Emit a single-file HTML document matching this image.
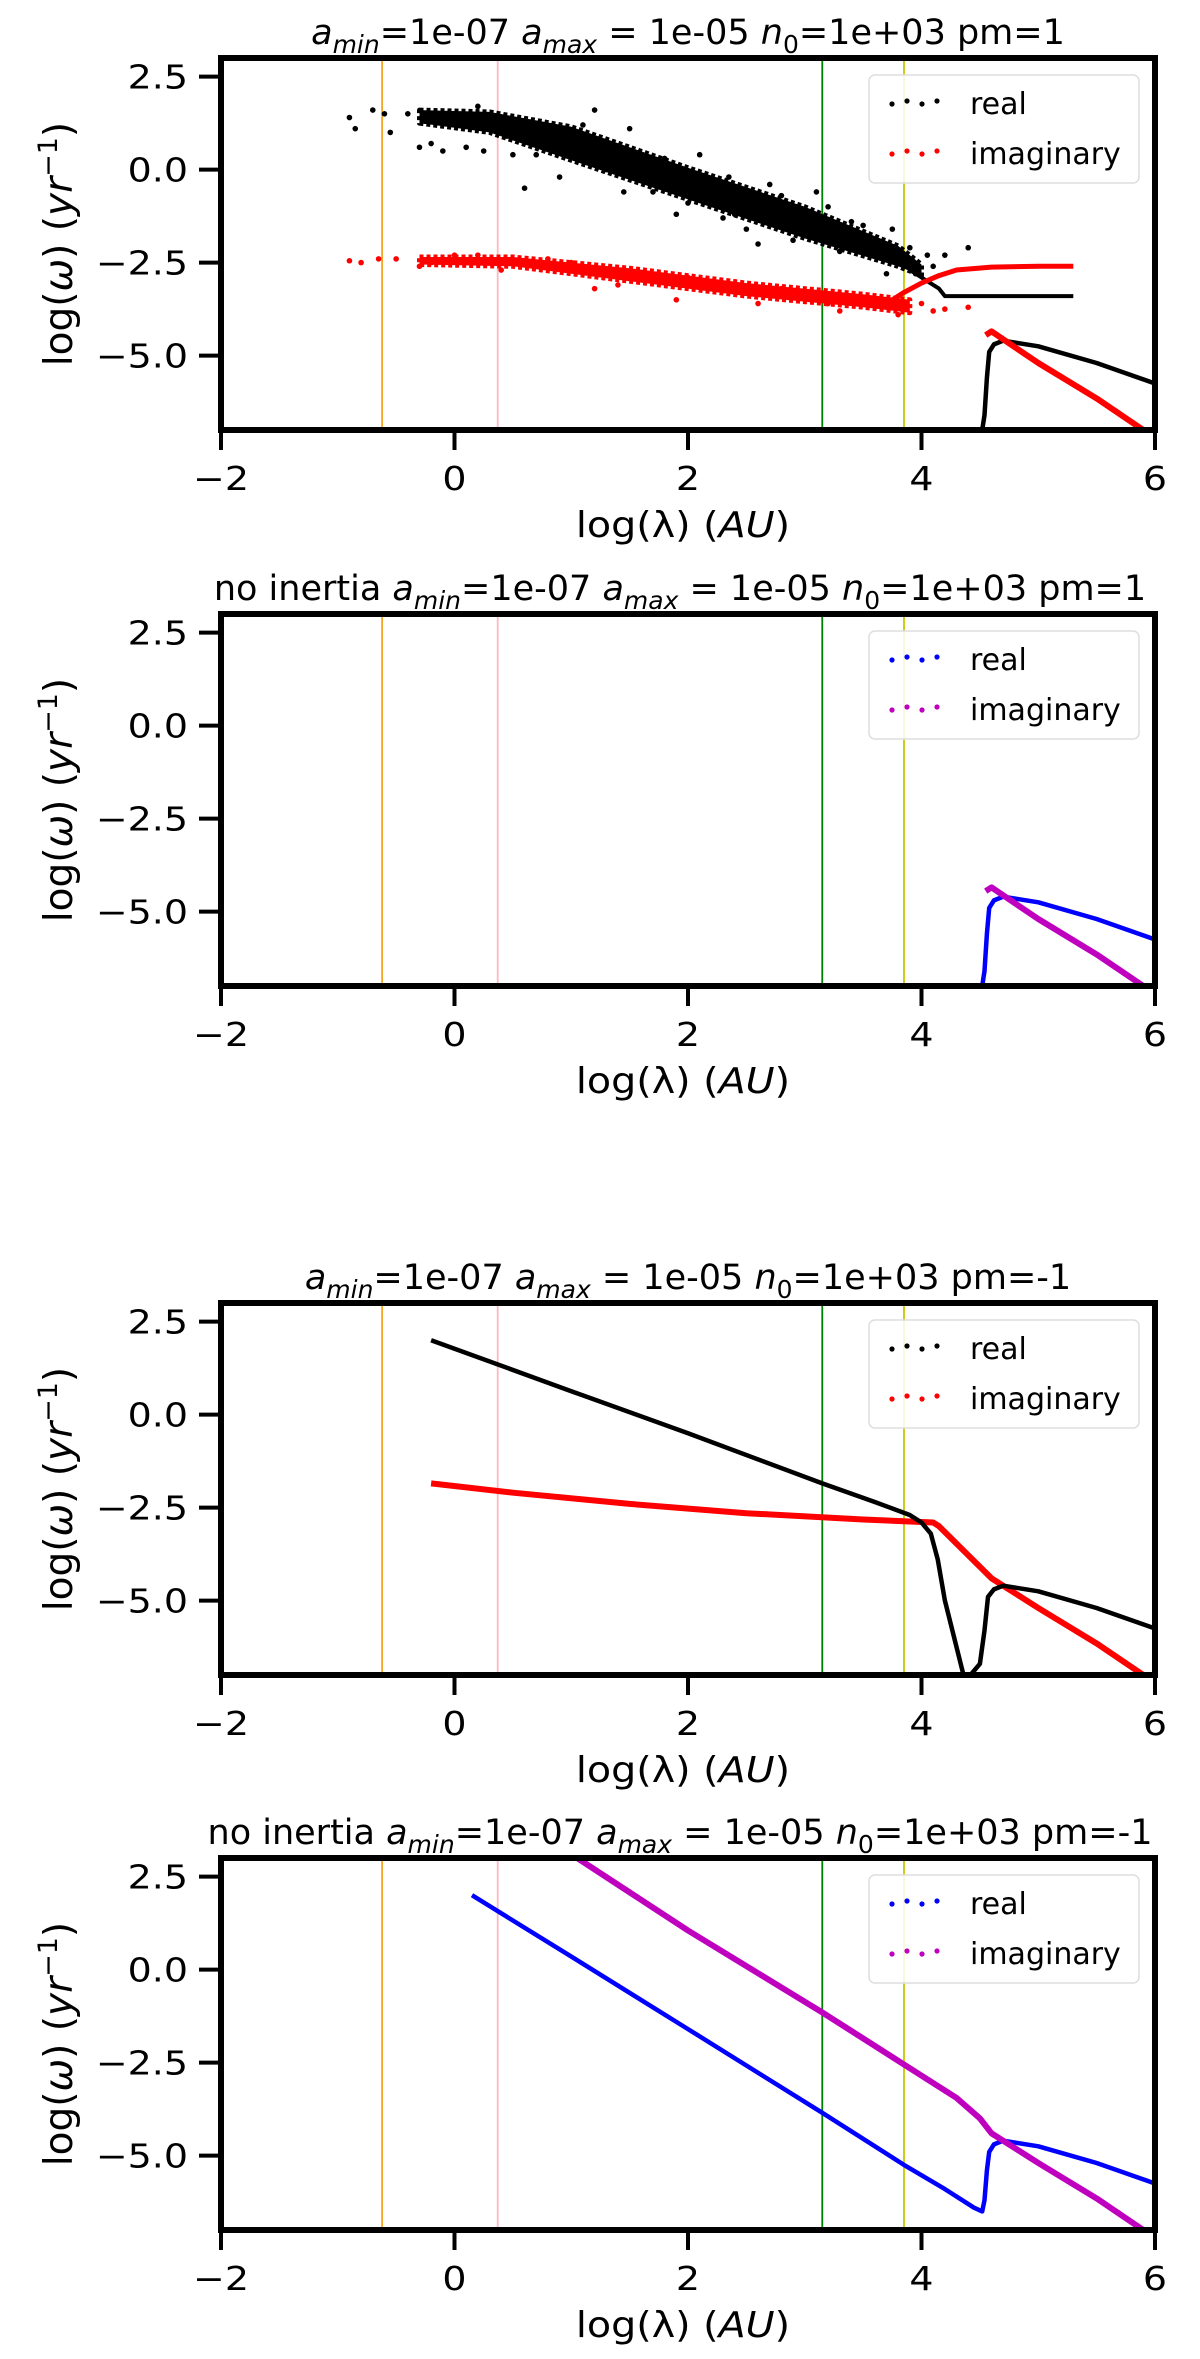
<!DOCTYPE html>
<html><head><meta charset="utf-8"><style>
html,body{margin:0;padding:0;background:#fff;}
svg{display:block;font-family:"DejaVu Sans","Liberation Sans",sans-serif;}
</style></head><body>
<svg id="fig" width="1200" height="2359" viewBox="0 0 1200 2359" xmlns="http://www.w3.org/2000/svg"></svg>
<script>
// ---- data ----
const xTicks = [-2, 0, 2, 4, 6];
const yTicks = [2.5, 0.0, -2.5, -5.0];
const vLines = [-0.62, 0.37, 3.15, 3.85];
const vColors = ['#f5a623', '#ffb6c1', 'green', '#c8c800'];
const titles = [
  ['', 'pm=1'], ['no inertia ', 'pm=1'], ['', 'pm=-1'], ['no inertia ', 'pm=-1']
];
// Panel 1 scatter bands (x, low, high)
const p1RealBandX = [-0.3, 0.3, 1.0, 2.0, 3.0, 3.8, 4.0];
const p1RealBandLo = [1.25, 1.0, 0.25, -0.8, -1.85, -2.6, -2.85];
const p1RealBandHi = [1.6, 1.55, 1.15, 0.05, -1.0, -2.05, -2.55];
const p1ImagBandX = [-0.3, 0.5, 1.5, 2.5, 3.5, 3.9];
const p1ImagBandLo = [-2.55, -2.6, -3.0, -3.4, -3.7, -3.85];
const p1ImagBandHi = [-2.35, -2.35, -2.65, -3.05, -3.35, -3.5];
const p1RealScatterX = [-0.9,-0.85,-0.7,-0.6,-0.55,-0.4,-0.3,-0.25,-0.1,0.1,0.25,0.5,0.6,0.8,1.0,1.2,1.3,1.5,1.7,1.8,2.0,2.2,2.4,2.5,2.7,2.9,3.1,3.3,3.5,3.7,3.9,4.05,4.1,4.2,4.4,-0.2,0.9,1.9,2.6,0.7,1.1,1.4,1.6,2.1,2.3,2.8,3.2,3.4,3.6,3.75,3.95,0.2,0.45,1.45,2.35,2.95,3.45];
const p1RealScatterY = [1.4,1.1,1.6,1.5,1.0,1.5,0.6,1.3,0.5,0.6,0.5,0.4,-0.5,0.8,0.9,1.6,0.0,1.1,-0.6,0.3,-0.9,-0.3,-1.2,-1.6,-0.4,-1.9,-0.6,-2.2,-1.5,-2.8,-2.1,-2.3,-2.6,-2.3,-2.1,0.7,-0.2,-1.2,-2.0,0.4,1.2,0.5,-0.1,0.4,-1.3,-0.7,-1.0,-1.4,-2.3,-1.6,-2.8,1.7,0.9,-0.6,-0.2,-1.1,-1.9];
const p1ImagScatterX = [-0.9,-0.8,-0.65,-0.5,-0.3,-0.2,0.0,0.4,0.8,1.2,1.6,1.9,2.2,2.6,3.0,3.3,3.6,3.8,4.0,4.1,4.2,4.4,0.2,1.0,1.4,2.0,2.4,2.8,3.2];
const p1ImagScatterY = [-2.45,-2.5,-2.4,-2.4,-2.6,-2.5,-2.3,-2.7,-2.4,-3.2,-2.8,-3.5,-3.1,-3.6,-3.3,-3.8,-3.5,-3.9,-3.6,-3.8,-3.75,-3.7,-2.3,-2.5,-3.1,-2.9,-3.3,-3.2,-3.6];
const p1RealTailX = [3.9, 4.05, 4.15, 4.2, 4.4, 4.7, 5.0, 5.3];
const p1RealTailY = [-2.7, -3.0, -3.2, -3.4, -3.4, -3.4, -3.4, -3.4];
const p1ImagTailX = [3.7, 3.85, 4.0, 4.15, 4.3, 4.6, 5.0, 5.3];
const p1ImagTailY = [-3.6, -3.3, -3.05, -2.85, -2.7, -2.62, -2.6, -2.6];
// Shared lower branch
const lowRealX = [4.52, 4.54, 4.56, 4.58, 4.62, 4.7, 5.0, 5.5, 6.0];
const lowRealY = [-7.0, -6.6, -5.6, -4.9, -4.7, -4.6, -4.75, -5.2, -5.75];
const lowImagX = [4.55, 4.6, 5.0, 5.5, 5.9];
const lowImagY = [-4.45, -4.35, -5.2, -6.15, -7.0];
// Panel 3
const p3RealX = [-0.2, 1.0, 2.0, 3.15, 3.6, 3.9, 4.0, 4.08, 4.14, 4.2, 4.36, 4.42, 4.5, 4.54, 4.57, 4.62, 4.7, 5.0, 5.5, 6.0];
const p3RealY = [2.0, 0.63, -0.5, -1.85, -2.35, -2.7, -2.9, -3.2, -3.9, -5.0, -7.0, -7.0, -6.7, -5.8, -4.9, -4.7, -4.6, -4.75, -5.2, -5.75];
const p3ImagX = [-0.2, 0.5, 1.5, 2.5, 3.5, 4.1, 4.15, 4.6, 5.0, 5.5, 5.9];
const p3ImagY = [-1.85, -2.1, -2.4, -2.65, -2.82, -2.9, -3.0, -4.4, -5.2, -6.15, -7.0];
// Panel 4
const p4RealX = [0.15, 1.0, 2.0, 3.15, 3.85, 4.2, 4.45, 4.52, 4.54, 4.56, 4.58, 4.62, 4.7, 5.0, 5.5, 6.0];
const p4RealY = [2.0, 0.35, -1.6, -3.85, -5.25, -5.9, -6.4, -6.5, -6.2, -5.4, -4.9, -4.7, -4.6, -4.75, -5.2, -5.75];
const p4ImagX = [1.05, 2.0, 3.15, 3.85, 4.3, 4.5, 4.6, 5.0, 5.5, 5.9];
const p4ImagY = [3.0, 1.05, -1.15, -2.55, -3.45, -4.0, -4.4, -5.2, -6.15, -7.0];

// ---- layout ----
const L = 221, R = 1155, H = 372;
const tops = [58, 614, 1303, 1858];
const NS = 'http://www.w3.org/2000/svg';
const svg = document.getElementById('fig');
function mk(tag, attrs, parent) {
  const e = document.createElementNS(NS, tag);
  for (const k in attrs) e.setAttribute(k, attrs[k]);
  (parent || svg).appendChild(e);
  return e;
}
function sx(x) { return L + (x + 2) / 8 * (R - L); }
function syF(top) { return y => top + (3 - y) / 10 * H; }

function drawLine(g, xs, ys, sy, color, w, name) {
  let d = '';
  for (let i = 0; i < xs.length; i++) d += (i ? 'L' : 'M') + sx(xs[i]).toFixed(1) + ' ' + sy(ys[i]).toFixed(1);
  const p = mk('path', {d: d, fill: 'none', stroke: color, 'stroke-width': w, 'stroke-linejoin': 'round'}, g);
  
  
}
function drawBand(g, xs, lo, hi, sy, color, name) {
  let d = '';
  for (let i = 0; i < xs.length; i++) d += (i ? 'L' : 'M') + sx(xs[i]).toFixed(1) + ' ' + sy(hi[i]).toFixed(1);
  for (let i = xs.length - 1; i >= 0; i--) d += 'L' + sx(xs[i]).toFixed(1) + ' ' + sy(lo[i]).toFixed(1);
  const p = mk('path', {d: d + 'Z', fill: color, stroke: color, 'stroke-width': 5, 'stroke-linejoin': 'round', 'stroke-dasharray': '4 3'}, g);
  
  
}
function drawDots(g, xs, ys, sy, color, name) {
  for (let i = 0; i < xs.length; i++) {
    const c = mk('circle', {cx: sx(xs[i]), cy: sy(ys[i]), r: 2.8, fill: color}, g);
    
    
  }
}
function stretchText(parent, x, y, size, anchor, sxf, content, name) {
  const t = mk('text', {x: 0, y: 0, 'font-size': size, 'text-anchor': anchor, transform: 'translate(' + x + ',' + y + ') scale(' + sxf + ',1)'}, parent);
  t.textContent = content;
  
  
  return t;
}

for (let p = 0; p < 4; p++) {
  const top = tops[p], bot = top + H, sy = syF(top);
  const g = mk('g', {});
  
  
  const clipId = 'clip' + p;
  const cp = mk('clipPath', {id: clipId}, g);
  mk('rect', {x: L, y: top, width: R - L, height: H}, cp);
  const plot = mk('g', {'clip-path': 'url(#' + clipId + ')'}, g);
  
  
  for (let i = 0; i < vLines.length; i++) {
    const l = mk('line', {x1: sx(vLines[i]), x2: sx(vLines[i]), y1: top, y2: bot, stroke: vColors[i], 'stroke-width': 1.8}, plot);
    
    
  }
  const realC = p % 2 === 0 ? '#000' : '#0000ff';
  const imagC = p % 2 === 0 ? '#ff0000' : '#bf00bf';
  if (p === 0) {
    drawBand(plot, p1RealBandX, p1RealBandLo, p1RealBandHi, sy, '#000', 'real-scatter-band');
    drawDots(plot, p1RealScatterX, p1RealScatterY, sy, '#000', 'real-point');
    drawBand(plot, p1ImagBandX, p1ImagBandLo, p1ImagBandHi, sy, '#ff0000', 'imaginary-scatter-band');
    drawDots(plot, p1ImagScatterX, p1ImagScatterY, sy, '#ff0000', 'imaginary-point');
    drawLine(plot, p1RealTailX, p1RealTailY, sy, '#000', 4, 'real-tail');
    drawLine(plot, p1ImagTailX, p1ImagTailY, sy, '#ff0000', 5, 'imaginary-tail');
  }
  if (p === 2) {
    drawLine(plot, p3ImagX, p3ImagY, sy, imagC, 6, 'imaginary-series');
    drawLine(plot, p3RealX, p3RealY, sy, realC, 4.5, 'real-series');
  } else if (p === 3) {
    drawLine(plot, p4RealX, p4RealY, sy, realC, 4.5, 'real-series');
    drawLine(plot, p4ImagX, p4ImagY, sy, imagC, 6, 'imaginary-series');
  } else {
    drawLine(plot, lowRealX, lowRealY, sy, realC, 4.5, 'real-series');
    drawLine(plot, lowImagX, lowImagY, sy, imagC, 6, 'imaginary-series');
  }
  const fr = mk('rect', {x: L, y: top, width: R - L, height: H, fill: 'none', stroke: '#000', 'stroke-width': 6}, g);
  
  
  for (const t of xTicks) {
    const x = sx(t);
    mk('line', {x1: x, x2: x, y1: bot, y2: bot + 20, stroke: '#000', 'stroke-width': 4}, g);
    stretchText(g, x, bot + 60, 33, 'middle', 1.15, t < 0 ? '\u2212' + Math.abs(t) : String(t), 'x-tick-label');
  }
  for (const t of yTicks) {
    const y = sy(t);
    mk('line', {x1: L - 22, x2: L, y1: y, y2: y, stroke: '#000', 'stroke-width': 4}, g);
    stretchText(g, L - 33, y + 12, 33, 'end', 1.15, (t < 0 ? '\u2212' : '') + Math.abs(t).toFixed(1), 'y-tick-label');
  }
  const xl = mk('text', {x: 0, y: 0, 'font-size': 36, 'text-anchor': 'middle', transform: 'translate(' + ((L + R) / 2 - 5) + ',' + (bot + 107) + ') scale(1.1,1)'}, g);
  xl.innerHTML = 'log(\u03bb) (<tspan font-style="italic">AU</tspan>)';
  
  
  const cy = top + H / 2;
  const yl = mk('text', {x: 0, y: 0, 'font-size': 39, 'text-anchor': 'middle', transform: 'translate(72,' + cy + ') rotate(-90)'}, g);
  yl.innerHTML = 'log(<tspan font-style="italic">\u03c9</tspan>) (<tspan font-style="italic">yr</tspan><tspan font-size="27" dy="-15">\u22121</tspan><tspan dy="15">)</tspan>';
  
  
  const tt = mk('text', {x: (L + R) / 2 + (p % 2 ? -8 : 0), y: top - 14, 'font-size': 35, 'text-anchor': 'middle'}, g);
  tt.innerHTML = titles[p][0] + '<tspan font-style="italic">a</tspan><tspan font-style="italic" font-size="25" dy="9">min</tspan><tspan dy="-9">=1e-07 </tspan><tspan font-style="italic">a</tspan><tspan font-style="italic" font-size="25" dy="9">max</tspan><tspan dy="-9"> = 1e-05 </tspan><tspan font-style="italic">n</tspan><tspan font-size="25" dy="9">0</tspan><tspan dy="-9">=1e+03 ' + titles[p][1] + '</tspan>';
  
  
  const lg = mk('g', {}, g);
  
  
  mk('rect', {x: 869, y: top + 17, width: 270, height: 108, rx: 6, fill: 'rgba(255,255,255,0.85)', stroke: '#ddd', 'stroke-width': 1.5}, lg);
  const entries = [['real', realC, top + 46], ['imaginary', imagC, top + 96]];
  for (const [lab, col, y] of entries) {
    const e = mk('g', {}, lg);
    
    
    for (let k = 0; k < 4; k++) mk('circle', {cx: 892 + k * 15, cy: y + (k % 2 ? -3 : 0), r: 2.6, fill: col}, e);
    const t = mk('text', {x: 970, y: y + 10, 'font-size': 30}, e);
    t.textContent = lab;
  }
}
</script>
</body></html>
